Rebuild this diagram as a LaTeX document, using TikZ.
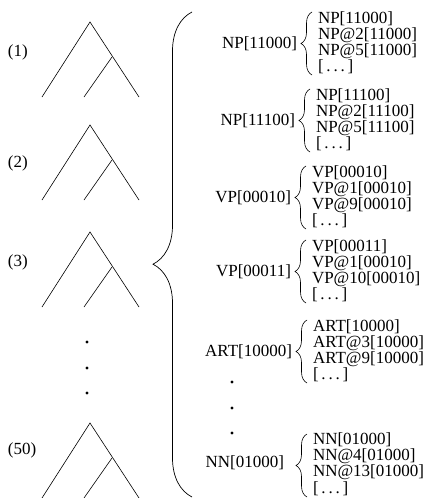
\documentclass[tikz,border=0pt]{standalone}
\usepackage{fontspec}
\setmainfont{Liberation Serif}
\usetikzlibrary{decorations.pathreplacing}
\begin{document}
\begin{tikzpicture}[x=1pt,y=-1pt,
  every node/.style={inner sep=0pt,outer sep=0pt,font=\fontsize{17}{17}\selectfont},
  edge/.style={line width=0.6pt},
  bigbrace/.style={line width=0.7pt,decorate,decoration={brace,amplitude=39pt,aspect=0.48}},
  smallbrace/.style={line width=0.6pt,decorate,decoration={brace,amplitude=11pt}},
  lbl/.style={anchor=west},
  cat/.style={anchor=east},
  item/.style={anchor=west},
  dotm/.style={circle,fill,minimum size=3.2pt,inner sep=0pt}
]
\useasboundingbox (0,0) rectangle (427,498);

% trees
\foreach \n/\yy/\lab/\ly in {t1/22/(1)/52, t2/125/(2)/163, t3/232/(3)/262, t4/423/(50)/450}{
  \coordinate (\n a) at (90,\yy);
  \coordinate (\n m) at (112,\yy+35);
  \coordinate (\n l) at (42,\yy+75);
  \coordinate (\n r) at (139,\yy+75);
  \coordinate (\n k) at (84,\yy+75);
  \draw[edge] (\n l) -- (\n a) -- (\n r);
  \draw[edge] (\n m) -- (\n k);
  \node[lbl] (\n lab) at (8,\ly) {\lab};
}
\node[dotm] (d1) at (87,342) {};
\node[dotm] (d2) at (87,368) {};
\node[dotm] (d3) at (87,393) {};

% big brace
\coordinate (bb1) at (192,497);
\coordinate (bb2) at (192,12);
\draw[bigbrace] (bb1) -- (bb2);

% groups
\foreach \g/\yt/\tx/\c/\la/\lb/\lc in {
  g1/12/318/NP[11000]/NP[11000]/NP@2[11000]/NP@5[11000],
  g2/89/316/NP[11100]/NP[11100]/NP@2[11100]/NP@5[11100],
  g3/166/312/VP[00010]/VP[00010]/VP@1[00010]/VP@9[00010],
  g4/240/312/VP[00011]/VP[00011]/VP@1[00010]/VP@10[00010],
  g5/320/313/ART[10000]/ART[10000]/ART@3[10000]/ART@9[10000]}{
  \coordinate (\g b1) at (\tx-6,\yt+63);
  \coordinate (\g b2) at (\tx-6,\yt);
  \draw[smallbrace] (\g b1) -- (\g b2);
  \node[cat] (\g c) at (\tx-21,\yt+31.5) {\c};
  \node[item] (\g i1) at (\tx,\yt+7) {\la};
  \node[item] (\g i2) at (\tx,\yt+23) {\lb};
  \node[item] (\g i3) at (\tx,\yt+39) {\lc};
  \node[item] (\g i4) at (\tx,\yt+55) {[\,.\,.\,.\,]};
}
% last group
\coordinate (g6b1) at (307,497);
\coordinate (g6b2) at (307,434);
\draw[smallbrace] (g6b1) -- (g6b2);
\node[cat] (g6c) at (284,463) {NN[01000]};
\node[item] (g6i1) at (313,440) {NN[01000]};
\node[item] (g6i2) at (313,456) {NN@4[01000]};
\node[item] (g6i3) at (313,472) {NN@13[01000]};
\node[item] (g6i4) at (313,489) {[\,.\,.\,.\,]};

\node[dotm] (e1) at (232,382) {};
\node[dotm] (e2) at (232,408) {};
\node[dotm] (e3) at (232,433) {};
\end{tikzpicture}
\end{document}
